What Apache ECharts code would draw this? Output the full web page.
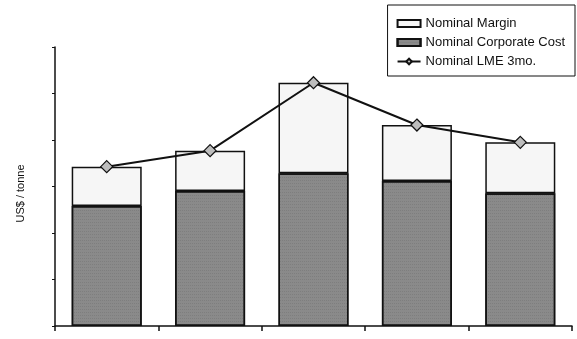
<!DOCTYPE html>
<html>
<head>
<meta charset="utf-8">
<script src="https://cdn.jsdelivr.net/npm/echarts@6/dist/echarts.min.js"></script>
<style>
  html, body { margin: 0; padding: 0; background: #fff; }
  #chart { width: 577px; height: 339px; }
</style>
</head>
<body>
<div id="chart"></div>
<script>
// no category labels are printed on the original, keep them hidden
const categories = ['P1', 'P2', 'P3', 'P4', 'P5'];
const corporateCost = [1290, 1452, 1642, 1559, 1427];
const margin = [423, 433, 974, 602, 548];
const lmePrice = [1713, 1885, 2616, 2161, 1975];

const chart = echarts.init(document.getElementById('chart'));

const font = 'Liberation Sans, Arial, sans-serif';

const option = {
  backgroundColor: '#fff',
  animation: false,
  grid: { left: 55, right: 5, top: 47, bottom: 13 },
  legend: {
    orient: 'vertical',
    right: 2,
    top: 5,
    padding: [12, 10, 8, 9],
    borderColor: '#111',
    borderWidth: 1,
    itemGap: 6,
    itemWidth: 23,
    itemHeight: 7,
    textStyle: { fontFamily: font, fontSize: 13, color: '#111' },
    data: [
      { name: 'Nominal Margin', icon: 'rect' },
      { name: 'Nominal Corporate Cost', icon: 'rect' },
      { name: 'Nominal LME 3mo.' }
    ]
  },
  xAxis: {
    type: 'category',
    data: categories,
    axisLine: { lineStyle: { color: '#111', width: 1.5 } },
    axisTick: { show: true, length: 5, lineStyle: { color: '#111', width: 1.5 } },
    axisLabel: { show: false }
  },
  yAxis: {
    type: 'value',
    min: 0,
    max: 3000,
    interval: 500,
    name: 'US$ / tonne',
    nameLocation: 'middle',
    nameGap: 29,
    nameTextStyle: { fontFamily: font, fontSize: 11, color: '#111', padding: [0, 14, 0, 0] },
    axisLine: { show: true, lineStyle: { color: '#111', width: 1.5 } },
    axisTick: { show: true, length: 3, lineStyle: { color: '#111' } },
    axisLabel: { show: false },
    splitLine: { show: false }
  },
  series: [
    {
      name: 'Nominal Corporate Cost',
      type: 'bar',
      stack: 'total',
      barWidth: 70,
      data: corporateCost,
      itemStyle: {
        color: '#8a8a8a',
        borderColor: '#111',
        borderWidth: 1.5,
        decal: { symbol: 'rect', symbolSize: 0.5, dashArrayX: [1, 1], dashArrayY: [1, 2], color: 'rgba(40,40,40,0.45)', rotation: 0 }
      }
    },
    {
      name: 'Nominal Margin',
      type: 'bar',
      stack: 'total',
      barWidth: 70,
      data: margin,
      itemStyle: {
        color: '#f6f6f6',
        borderColor: '#111',
        borderWidth: 1.5
      }
    },
    {
      name: 'Nominal LME 3mo.',
      type: 'line',
      data: lmePrice,
      symbol: 'diamond',
      symbolSize: 12,
      z: 5,
      lineStyle: { color: '#111', width: 2 },
      itemStyle: { color: '#bdbdbd', borderColor: '#111', borderWidth: 1.2 }
    }
  ]
};

chart.setOption(option);
</script>
</body>
</html>
